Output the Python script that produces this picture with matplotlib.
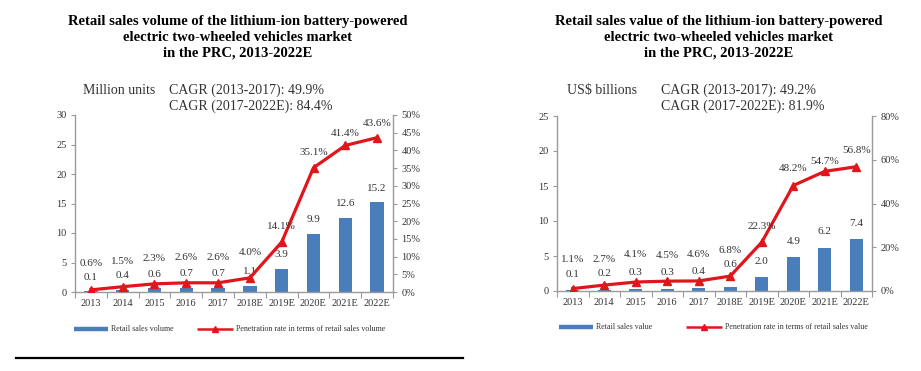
import matplotlib
matplotlib.use('Agg')
import matplotlib.pyplot as plt
from matplotlib.lines import Line2D

W, H = 921, 371

years = ['2013', '2014', '2015', '2016', '2017', '2018E', '2019E', '2020E', '2021E', '2022E']

# retail sales volume (million units) and penetration rate (%)
volume = [0.1, 0.4, 0.6, 0.7, 0.7, 1.1, 3.9, 9.9, 12.6, 15.2]
volume_pen = [0.6, 1.5, 2.3, 2.6, 2.6, 4.0, 14.1, 35.1, 41.4, 43.6]

# retail sales value (US$ billions) and penetration rate (%)
value = [0.1, 0.2, 0.3, 0.3, 0.4, 0.6, 2.0, 4.9, 6.2, 7.4]
value_pen = [1.1, 2.7, 4.1, 4.5, 4.6, 6.8, 22.3, 48.2, 54.7, 56.8]

BLUE = '#4a7ebb'
RED = '#e0161c'
GRAY = '#9a9a9a'
TXT = '#333333'

plt.rcParams['font.family'] = ['Liberation Serif', 'DejaVu Serif']


def fx(x):
    return x / W


def fy(y):
    return 1 - y / H


def draw_chart(fig, rect, bars, pen, ymax, ystep, pmax, pstep, bar_off, pen_off):
    """Bar + line combo on twin axes."""
    ax = fig.add_axes(rect)
    x = list(range(len(years)))
    ax.bar(x, bars, width=0.42, color=BLUE, zorder=2)
    ax.set_xlim(-0.5, len(years) - 0.5)
    ax.set_ylim(0, ymax)
    ax.set_yticks(range(0, ymax + 1, ystep))
    ax.set_xticks(x)
    ax.set_xticklabels(years)
    ax.set_xticks([i + 0.5 for i in range(-1, len(years))], minor=True)
    ax.tick_params(axis='x', which='major', length=0, labelsize=7.5, colors=TXT, pad=5)
    ax.tick_params(axis='x', which='minor', length=4, color=GRAY, width=0.8)
    ax.tick_params(axis='y', length=3, color=GRAY, labelsize=7.5, labelcolor=TXT, pad=3)
    for s in ['top', 'right']:
        ax.spines[s].set_visible(False)
    for s in ['left', 'bottom']:
        ax.spines[s].set_color(GRAY)
        ax.spines[s].set_linewidth(1.0)

    for i, v in enumerate(bars):
        ax.annotate(f'{v:.1f}', (i, v),
                    xytext=(0, bar_off[i] * 0.72), textcoords='offset points',
                    ha='center', va='center', fontsize=8, color=TXT, zorder=1)

    ax2 = ax.twinx()
    ax2.plot(x, pen, color=RED, lw=2.3, marker='^', ms=5.5, zorder=3)
    ax2.set_ylim(0, pmax)
    ax2.set_yticks(range(0, pmax + 1, pstep))
    ax2.set_yticklabels([f'{t}%' for t in range(0, pmax + 1, pstep)])
    ax2.tick_params(axis='y', length=3, color=GRAY, labelsize=7.5, labelcolor=TXT, pad=3)
    for s in ['top', 'left', 'bottom']:
        ax2.spines[s].set_visible(False)
    ax2.spines['right'].set_color(GRAY)
    ax2.spines['right'].set_linewidth(1.0)
    for i, p in enumerate(pen):
        ax2.annotate(f'{p:.1f}%', (i, p), xytext=(0, pen_off[i] * 0.72),
                     textcoords='offset points', ha='center', va='center',
                     fontsize=8, color=TXT)
    return ax, ax2


def draw_legend(fig, x0, y, bar_label, x1, line_label):
    # bar swatch
    fig.add_artist(Line2D([fx(x0), fx(x0 + 34)], [fy(y), fy(y)], color=BLUE, lw=3.2,
                          solid_capstyle='butt'))
    fig.text(fx(x0 + 37), fy(y), bar_label, fontsize=5.8, color=TXT, va='center')
    fig.add_artist(Line2D([fx(x1), fx(x1 + 36)], [fy(y), fy(y)], color=RED, lw=1.8,
                          solid_capstyle='butt'))
    fig.add_artist(Line2D([fx(x1 + 18)], [fy(y)], color=RED, marker='^', ms=5, lw=0))
    fig.text(fx(x1 + 39), fy(y), line_label, fontsize=5.8, color=TXT, va='center')


fig = plt.figure(figsize=(W / 100, H / 100), dpi=100)

# left chart: volume
draw_chart(fig, [fx(75), fy(292), (393 - 75) / W, (292 - 115) / H],
           volume, volume_pen, 30, 5, 50, 5,
           [14] * 10, [26, 25, 25, 25, 25, 25, 16, 15, 12, 14])
# right chart: value
draw_chart(fig, [fx(557), fy(291), (872 - 557) / W, (291 - 116) / H],
           value, value_pen, 25, 5, 80, 20,
           [16, 16, 16, 16, 17, 22, 15, 15, 16, 16], [29, 26, 28, 26, 26, 26, 16, 17, 10, 16])

# titles
fig.text(fx(237.5), fy(37.3),
         'Retail sales volume of the lithium-ion battery-powered\nelectric two-wheeled vehicles market\nin the PRC, 2013-2022E',
         ha='center', va='center', fontsize=10.5, fontweight='bold', linespacing=1.3, color='black')
fig.text(fx(718.7), fy(37.3),
         'Retail sales value of the lithium-ion battery-powered\nelectric two-wheeled vehicles market\nin the PRC, 2013-2022E',
         ha='center', va='center', fontsize=10.5, fontweight='bold', linespacing=1.3, color='black')

# units and CAGR notes
fig.text(fx(83), fy(90.7), 'Million units', fontsize=10, color=TXT, va='center')
fig.text(fx(169.3), fy(90.7), 'CAGR (2013-2017): 49.9%', fontsize=10, color=TXT, va='center')
fig.text(fx(169.3), fy(106.7), 'CAGR (2017-2022E): 84.4%', fontsize=10, color=TXT, va='center')
fig.text(fx(567.3), fy(90.7), 'US$ billions', fontsize=10, color=TXT, va='center')
fig.text(fx(660.7), fy(90.7), 'CAGR (2013-2017): 49.2%', fontsize=10, color=TXT, va='center')
fig.text(fx(660.7), fy(106.7), 'CAGR (2017-2022E): 81.9%', fontsize=10, color=TXT, va='center')

# legends
draw_legend(fig, 74, 329, 'Retail sales volume', 197,
            'Penetration rate in terms of retail sales volume')
draw_legend(fig, 559, 327, 'Retail sales value', 686,
            'Penetration rate in terms of retail sales value')

# separator line under the left chart
fig.add_artist(Line2D([fx(16), fx(463)], [fy(357.7), fy(357.7)], color='black', lw=1.6))

fig.savefig('out.png', dpi=100)
